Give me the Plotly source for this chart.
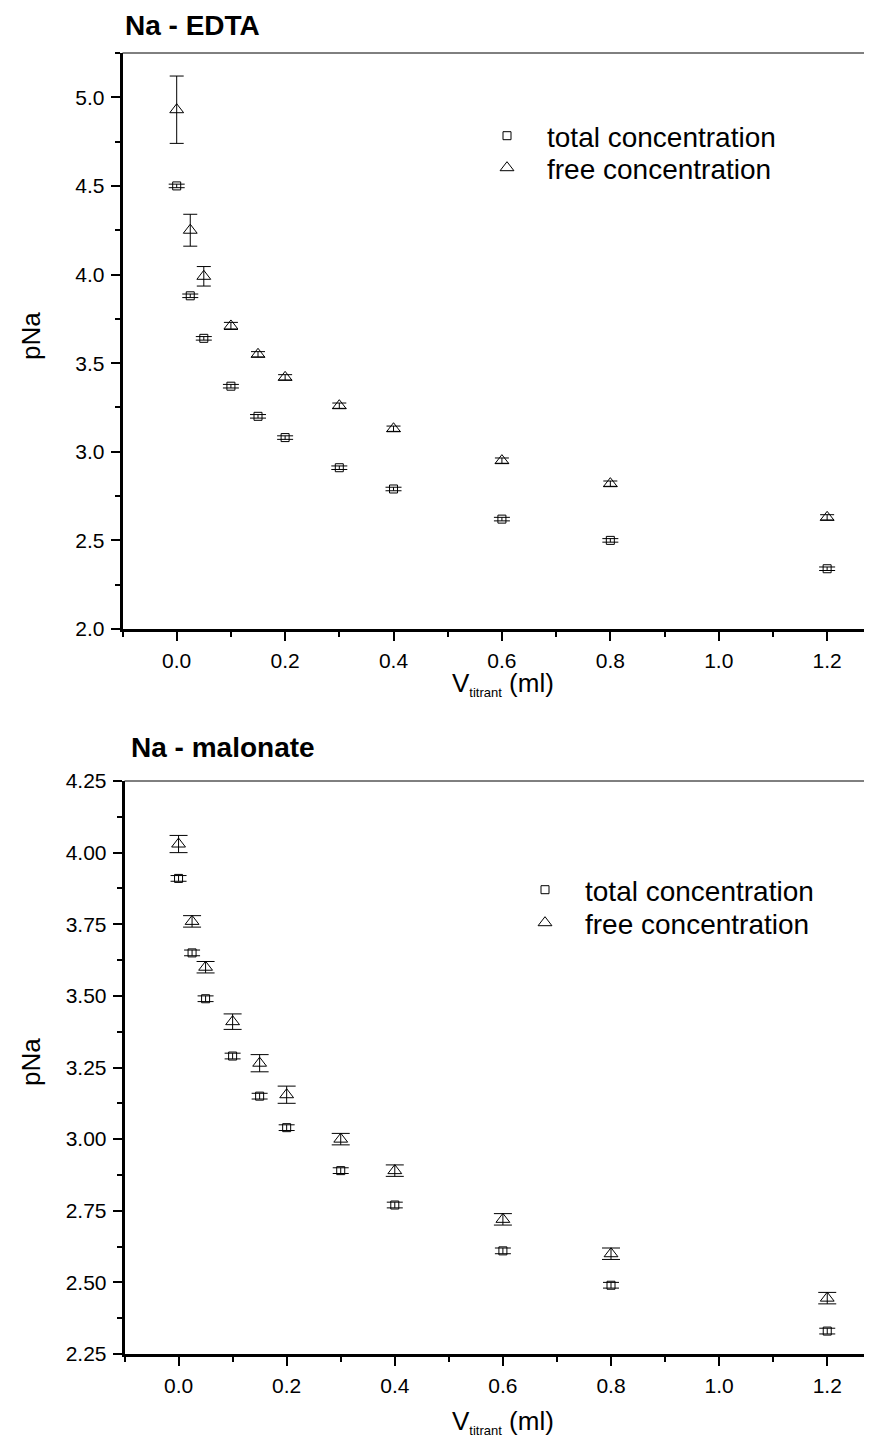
import plotly.graph_objects as go

# titrant volume (ml)
volume = [0, 0.025, 0.05, 0.1, 0.15, 0.2, 0.3, 0.4, 0.6, 0.8, 1.2]

# Na - EDTA
edta_total = [4.50, 3.88, 3.64, 3.37, 3.20, 3.08, 2.91, 2.79, 2.62, 2.50, 2.34]
edta_total_err = [0.01, 0.01, 0.01, 0.01, 0.01, 0.01, 0.01, 0.01, 0.01, 0.01, 0.01]
edta_free = [4.93, 4.25, 3.99, 3.71, 3.55, 3.42, 3.26, 3.13, 2.95, 2.82, 2.63]
edta_free_err = [0.19, 0.09, 0.055, 0.02, 0.015, 0.015, 0.015, 0.015, 0.015, 0.015, 0.015]

# Na - malonate
mal_total = [3.91, 3.65, 3.49, 3.29, 3.15, 3.04, 2.89, 2.77, 2.61, 2.49, 2.33]
mal_total_err = [0.01, 0.01, 0.01, 0.01, 0.01, 0.01, 0.01, 0.01, 0.01, 0.01, 0.01]
mal_free = [4.03, 3.76, 3.60, 3.41, 3.265, 3.155, 3.00, 2.89, 2.72, 2.60, 2.445]
mal_free_err = [0.03, 0.02, 0.02, 0.027, 0.03, 0.03, 0.02, 0.02, 0.02, 0.02, 0.02]

FONT = "Liberation Sans, Arial, sans-serif"
# page body has an 8px margin, so the figure is 16px smaller than the window
W, H = 856, 1431
OFF = 8


def fx(px):
    return (px - OFF) / W


def fy(py):
    return 1 - (py - OFF) / H


def series(y, err, name, symbol, size, capw, xa, ya, leg):
    return go.Scatter(
        x=volume, y=y, name=name, mode="markers",
        marker=dict(symbol=symbol, size=size, color="black",
                    line=dict(color="black", width=1)),
        error_y=dict(type="data", array=err, color="black", thickness=1, width=capw),
        xaxis=xa, yaxis=ya, legend=leg,
    )


fig = go.Figure()
fig.add_trace(series(edta_total, edta_total_err, "total concentration", "square-open", 8, 8, "x", "y", "legend"))
fig.add_trace(series(edta_free, edta_free_err, "free concentration", "triangle-up-open", 12, 7, "x", "y", "legend2"))
fig.add_trace(series(mal_total, mal_total_err, "total concentration", "square-open", 8, 8, "x2", "y2", "legend3"))
fig.add_trace(series(mal_free, mal_free_err, "free concentration", "triangle-up-open", 12, 9, "x2", "y2", "legend4"))

axis_common = dict(
    showline=True, linewidth=2.5, linecolor="black",
    ticks="outside", ticklen=9, tickwidth=2, tickcolor="black",
    showgrid=False, zeroline=False, automargin=False,
    tickfont=dict(family=FONT, size=21, color="black"),
    ticklabelstandoff=2,
)

xa = dict(axis_common, range=[-0.1, 1.268], tick0=0, dtick=0.2, tickformat=".1f",
          minor=dict(dtick=0.1, tick0=0, ticks="outside", ticklen=5, tickwidth=2, tickcolor="black"))


def legend_box(px, py):
    return dict(x=fx(px), y=fy(py), xanchor="left", yanchor="top",
                itemwidth=70, bgcolor="rgba(0,0,0,0)",
                font=dict(family=FONT, size=28, color="black"))


fig.update_layout(
    template=None,
    width=W, height=H,
    margin=dict(l=0, r=0, t=0, b=0, autoexpand=False),
    paper_bgcolor="white", plot_bgcolor="white",
    font=dict(family=FONT, color="black"),
    xaxis=dict(xa, domain=[fx(122.5), 1], anchor="y"),
    yaxis=dict(axis_common, domain=[fy(629), fy(53)], anchor="x",
               range=[2.0, 5.25], tick0=2.0, dtick=0.5, tickformat=".1f",
               minor=dict(dtick=0.25, tick0=2.0, ticks="outside", ticklen=5, tickwidth=2, tickcolor="black")),
    xaxis2=dict(xa, domain=[fx(124.5), 1], anchor="y2"),
    yaxis2=dict(axis_common, domain=[fy(1354), fy(781)], anchor="x2",
                range=[2.25, 4.25], tick0=2.25, dtick=0.25, tickformat=".2f",
                minor=dict(dtick=0.125, tick0=2.25, ticks="outside", ticklen=5, tickwidth=2, tickcolor="black")),
    legend=legend_box(467, 111),
    legend2=legend_box(467, 143),
    legend3=legend_box(505, 865),
    legend4=legend_box(505, 898),
    showlegend=True,
)

# thin frame line along the top of each panel
for xr, yr in [("x domain", "y domain"), ("x2 domain", "y2 domain")]:
    fig.add_shape(type="line", xref=xr, yref=yr, x0=0, x1=1, y0=1, y1=1,
                  line=dict(color="black", width=1))

# panel titles and axis titles
panels = [("Na - EDTA", 123, 26, 336, 684), ("Na - malonate", 129, 747, 1062, 1422)]
xtitle = "V<sub><span style='font-size:13px'>titrant</span></sub> (ml)"
for title, tx, ty, ylab_y, xlab_y in panels:
    fig.add_annotation(text="<b>" + title + "</b>", xref="paper", yref="paper",
                       x=fx(tx), y=fy(ty), xanchor="left", yanchor="middle",
                       showarrow=False, font=dict(family=FONT, size=28, color="black"))
    fig.add_annotation(text="pNa", xref="paper", yref="paper", textangle=-90,
                       x=fx(31), y=fy(ylab_y), xanchor="center", yanchor="middle",
                       showarrow=False, font=dict(family=FONT, size=26, color="black"))
    fig.add_annotation(text=xtitle, xref="paper", yref="paper",
                       x=fx(503), y=fy(xlab_y), xanchor="center", yanchor="middle",
                       showarrow=False, font=dict(family=FONT, size=26, color="black"))

fig.write_html("out.html")
